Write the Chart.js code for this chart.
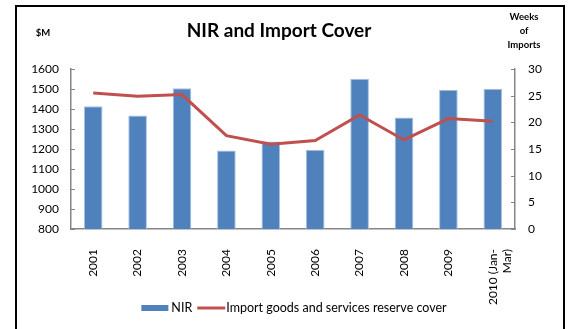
<!DOCTYPE html>
<html>
<head>
<meta charset="utf-8">
<script src="https://cdn.jsdelivr.net/npm/chart.js@4/dist/chart.umd.min.js"></script>
<style>
  body { margin: 0; background: #fff; }
  #frame { position: absolute; left: 15px; top: 5px; width: 550px; height: 340px; border: 2px solid #000; box-sizing: border-box; }
  #c { position: absolute; left: 0; top: 0; }
</style>
</head>
<body>
<div id="frame"></div>
<canvas id="c" width="572" height="329"></canvas>
<script>
const years = ['2001', '2002', '2003', '2004', '2005', '2006', '2007', '2008', '2009', ['2010 (Jan-', 'Mar)']];
const nir = [1414, 1367, 1504, 1193, 1238, 1196, 1551, 1357, 1496, 1501];
const cover = [25.5, 24.9, 25.2, 17.5, 15.9, 16.6, 21.4, 16.7, 20.7, 20.2];
const nirTicks = [800, 900, 1000, 1100, 1200, 1300, 1400, 1500, 1600];
const coverTicks = [0, 5, 10, 15, 20, 25, 30];

const FONT = 'Lato';
const AXIS = '#868686';

const extras = {
  id: 'extras',
  afterDraw(chart) {
    const { ctx, chartArea: a, scales } = chart;
    ctx.save();
    // small tick marks pointing into the plot
    ctx.strokeStyle = AXIS;
    ctx.lineWidth = 1;
    scales.y.ticks.forEach(t => {
      const y = Math.round(scales.y.getPixelForValue(t.value)) + 0.5;
      ctx.beginPath(); ctx.moveTo(a.left, y); ctx.lineTo(a.left + 4, y); ctx.stroke();
    });
    scales.y1.ticks.forEach(t => {
      const y = Math.round(scales.y1.getPixelForValue(t.value)) + 0.5;
      ctx.beginPath(); ctx.moveTo(a.right, y); ctx.lineTo(a.right - 4, y); ctx.stroke();
    });

    // headings
    ctx.fillStyle = '#000';
    ctx.textAlign = 'center';
    ctx.textBaseline = 'middle';
    ctx.font = `bold 19px ${FONT}`;
    ctx.fillText('NIR and Import Cover', 279, 31);
    ctx.font = `bold 9.5px ${FONT}`;
    ctx.fillText('$M', 43, 33);
    ['Weeks', 'of', 'Imports'].forEach((s, i) => ctx.fillText(s, 524, 17 + i * 14));

    // legend
    const [bars, line] = chart.data.datasets;
    ctx.font = `12.5px ${FONT}`;
    ctx.textAlign = 'left';
    const w0 = ctx.measureText(bars.label).width;
    const w1 = ctx.measureText(line.label).width;
    const total = 27 + 3 + w0 + 5 + 28 + 1 + w1;
    let x = 294 - total / 2;
    const ly = 308;
    ctx.fillStyle = bars.backgroundColor;
    ctx.fillRect(x, ly - 3, 27, 6);
    x += 30;
    ctx.fillStyle = '#000';
    ctx.fillText(bars.label, x, ly);
    x += w0 + 5;
    ctx.strokeStyle = line.borderColor;
    ctx.lineWidth = 3;
    ctx.beginPath(); ctx.moveTo(x, ly); ctx.lineTo(x + 28, ly); ctx.stroke();
    x += 29;
    ctx.fillText(line.label, x, ly);
    ctx.restore();
  }
};

new Chart(document.getElementById('c'), {
  data: {
    labels: years,
    datasets: [{
      type: 'bar',
      label: 'NIR',
      data: nir,
      yAxisID: 'y',
      backgroundColor: '#4F81BD',
      borderColor: '#A9C1DF',
      borderWidth: 1,
      barPercentage: 0.42,
      categoryPercentage: 1,
      order: 1
    }, {
      type: 'line',
      label: 'Import goods and services reserve cover',
      data: cover,
      yAxisID: 'y1',
      borderColor: '#C0504D',
      backgroundColor: '#C0504D',
      borderWidth: 3,
      pointRadius: 0,
      tension: 0,
      order: 0
    }]
  },
  options: {
    responsive: false,
    animation: false,
    layout: { padding: { top: 69, left: 0, right: 0, bottom: 0 } },
    plugins: { legend: { display: false }, tooltip: { enabled: false } },
    scales: {
      x: {
        grid: { display: false },
        border: { color: AXIS, width: 1.5 },
        ticks: {
          autoSkip: false, maxRotation: 90, minRotation: 90, padding: 12,
          color: '#000', font: { family: FONT, size: 12 }
        },
        afterFit(s) { s.height = 100; }
      },
      y: {
        position: 'left',
        min: nirTicks[0], max: nirTicks[nirTicks.length - 1],
        grid: { display: false, drawTicks: false },
        border: { color: AXIS, width: 1.5 },
        ticks: { stepSize: 100, padding: 12, color: '#000', font: { family: FONT, size: 12 }, callback: v => String(v) },
        afterFit(s) { s.width = 71; }
      },
      y1: {
        position: 'right',
        min: coverTicks[0], max: coverTicks[coverTicks.length - 1],
        grid: { display: false, drawTicks: false },
        border: { color: AXIS, width: 1.5 },
        ticks: { stepSize: 5, padding: 13, color: '#000', font: { family: FONT, size: 12 }, callback: v => String(v) },
        afterFit(s) { s.width = 57; }
      }
    }
  },
  plugins: [extras]
});
</script>
</body>
</html>
